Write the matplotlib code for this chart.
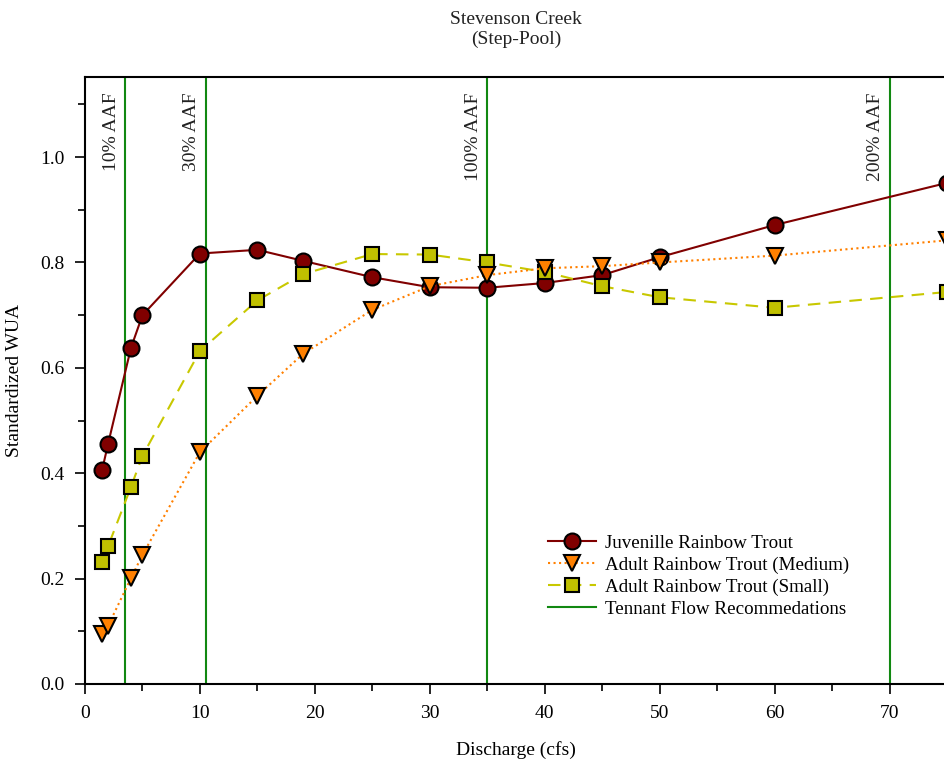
import matplotlib
matplotlib.use("Agg")
import matplotlib.pyplot as plt
from matplotlib.ticker import MultipleLocator

plt.rcParams["font.family"] = ["Liberation Serif", "DejaVu Serif"]

# discharge (cfs) where WUA was modelled
discharge = [1.5, 2, 4, 5, 10, 15, 19, 25, 30, 35, 40, 45, 50, 60, 75]

juvenile = [0.407, 0.455, 0.638, 0.700, 0.817, 0.824, 0.803, 0.772, 0.753,
            0.752, 0.761, 0.776, 0.810, 0.871, 0.951]
adult_medium = [0.095, 0.110, 0.201, 0.245, 0.440, 0.547, 0.627, 0.710, 0.755,
                0.776, 0.789, 0.793, 0.800, 0.813, 0.842]
adult_small = [0.231, 0.261, 0.374, 0.433, 0.632, 0.728, 0.778, 0.816, 0.815,
               0.800, 0.782, 0.755, 0.734, 0.714, 0.744]

# Tennant method flows
tennant_flows = [3.5, 10.5, 35, 70]
tennant_labels = ["10% AAF", "30% AAF", "100% AAF", "200% AAF"]

fig = plt.figure(figsize=(9.45, 7.65), dpi=100)
ax = fig.add_axes([85 / 945, 81 / 765, 862 / 945, 607 / 765])

green = "#118811"
for q in tennant_flows:
    ax.axvline(q, color=green, lw=1.5, zorder=1)
for q, lab in zip(tennant_flows, tennant_labels):
    ax.annotate(lab, xy=(q, 1.0), xycoords=("data", "axes fraction"),
                xytext=(-4, -11), textcoords="offset points",
                rotation=90, ha="right", va="top", fontsize=14, color="#222222")

ax.plot(discharge, juvenile, "-o", color="#800000", lw=1.5, ms=11.5,
        mfc="#800000", mec="black", mew=1.5, label="Juvenille Rainbow Trout",
        zorder=3, clip_on=False)
ax.plot(discharge, adult_medium, ":v", color="#ff8000", lw=1.5, ms=11.5,
        mfc="#ff8000", mec="black", mew=1.5, label="Adult Rainbow Trout (Medium)",
        zorder=4, clip_on=False)
ax.plot(discharge, adult_small, "--s", color="#c8c800", lw=1.5, ms=10.5,
        mfc="#c0c000", mec="black", mew=1.5, dashes=(6, 4),
        label="Adult Rainbow Trout (Small)", zorder=3, clip_on=False)
ax.plot([], [], color=green, lw=1.5, label="Tennant Flow Recommedations")

ax.set_xlim(0, 75)
ax.set_ylim(0, 1.152)
ax.xaxis.set_major_locator(MultipleLocator(10))
ax.xaxis.set_minor_locator(MultipleLocator(5))
ax.yaxis.set_major_locator(MultipleLocator(0.2))
ax.yaxis.set_minor_locator(MultipleLocator(0.1))
ax.yaxis.set_major_formatter(lambda v, p: f"{v:.1f}")
ax.tick_params(which="both", direction="out", width=1.2, labelsize=14, pad=8)
ax.tick_params(which="major", length=7)
ax.tick_params(which="minor", length=5)
for s in ax.spines.values():
    s.set_linewidth(1.5)
ax.spines["right"].set_visible(False)

ax.set_xlabel("Discharge (cfs)", fontsize=14, labelpad=14)
ax.set_ylabel("Standardized WUA", fontsize=14, labelpad=12)
ax.set_title("Stevenson Creek\n(Step-Pool)", fontsize=14, pad=24, color="#222222")

ax.legend(loc="lower left", bbox_to_anchor=(531 / 945, 130 / 765),
          bbox_transform=fig.transFigure, frameon=False, fontsize=13.7,
          numpoints=1, handlelength=2.5, handletextpad=0.5, labelspacing=0.25)

fig.savefig("out.png", dpi=100)
